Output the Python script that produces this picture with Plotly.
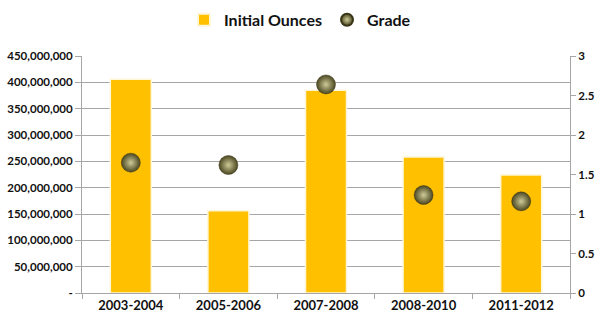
import plotly.graph_objects as go

categories = ["2003-2004", "2005-2006", "2007-2008", "2008-2010", "2011-2012"]
initial_ounces = [406000000, 156000000, 385000000, 258000000, 224000000]
grade = [1.65, 1.62, 2.64, 1.24, 1.16]
left_ticks = [0, 50000000, 100000000, 150000000, 200000000, 250000000, 300000000, 350000000, 400000000, 450000000]
left_labels = ["-", "50,000,000", "100,000,000", "150,000,000", "200,000,000", "250,000,000",
               "300,000,000", "350,000,000", "400,000,000", "450,000,000"]
right_ticks = [0, 0.5, 1, 1.5, 2, 2.5, 3]
right_labels = ["0", "0.5", "1", "1.5", "2", "2.5", "3"]

FONT = "Lato"

fig = go.Figure()
fig.add_trace(go.Bar(
    x=categories, y=initial_ounces, name="Initial Ounces",
    marker=dict(color="#FFC000", line=dict(color="#FFF6D8", width=1.5)),
    width=0.42, yaxis="y",
))
fig.add_trace(go.Scatter(
    x=categories, y=grade, name="Grade", mode="markers", yaxis="y2",
    marker=dict(size=19, color="#4A4620",
                gradient=dict(type="radial", color="#CFCB98"),
                line=dict(color="#3A3618", width=0.5)),
))

fig.update_layout(
    width=600, height=330,
    margin=dict(l=82, r=30, t=56, b=37, autoexpand=False),
    paper_bgcolor="white", plot_bgcolor="white",
    font=dict(family=FONT, color="#111111"),
    showlegend=True,
    legend=dict(orientation="h", xref="container", x=0.5, xanchor="center",
                yref="container", y=0.94, yanchor="middle",
                font=dict(size=16, family=FONT, color="#111111", weight="bold"),
                itemwidth=30, itemsizing="constant", traceorder="normal"),
    xaxis=dict(
        type="category", showgrid=False, showline=True, linecolor="#A6A6A6",
        ticks="outside", tickson="boundaries", ticklen=5, tickcolor="#A6A6A6",
        tickfont=dict(size=13, family=FONT, color="#111111", weight="bold"),
    ),
    yaxis=dict(
        range=[0, 450000000], tickvals=left_ticks, ticktext=left_labels,
        showgrid=True, gridcolor="#A6A6A6", gridwidth=1,
        showline=True, linecolor="#A6A6A6", ticks="outside", ticklen=6, tickcolor="#A6A6A6",
        tickfont=dict(size=11.5, family=FONT, color="#111111", weight="bold"),
        zeroline=False,
    ),
    yaxis2=dict(
        range=[0, 3], tickvals=right_ticks, ticktext=right_labels, overlaying="y", side="right",
        showgrid=False, showline=True, linecolor="#A6A6A6", ticks="outside", ticklen=5,
        tickcolor="#A6A6A6",
        tickfont=dict(size=11.5, family=FONT, color="#111111", weight="bold"),
        zeroline=False,
    ),
)

fig.write_html("out.html")
